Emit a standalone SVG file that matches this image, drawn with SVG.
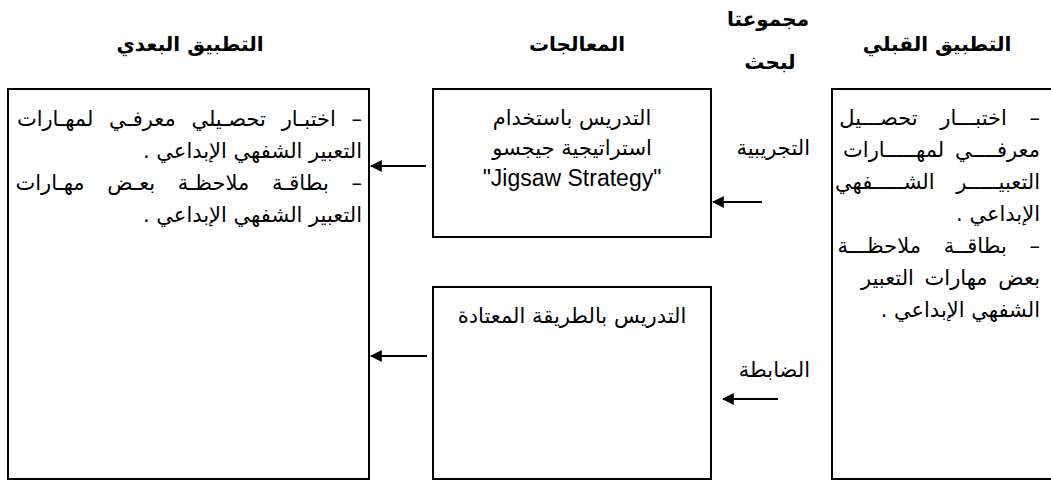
<svg xmlns="http://www.w3.org/2000/svg" width="1051" height="481" viewBox="0 0 1051 481">
<style>
.bg{fill:#fff}
.box{fill:#fff;stroke:#000;stroke-width:2}
.t{font-family:"DejaVu Sans","Liberation Sans",sans-serif;font-size:21px;fill:#000}
.h{font-family:"DejaVu Sans","Liberation Sans",sans-serif;font-size:20px;font-weight:bold;fill:#000}
.lat{font-family:"Liberation Sans",Arial,sans-serif;font-size:23px;fill:#000}
.arr{stroke:#000;stroke-width:2;fill:none;marker-end:url(#ah)}
</style>
<defs>
<marker id="ah" viewBox="0 0 10 10" refX="9" refY="5" markerWidth="6" markerHeight="6" markerUnits="strokeWidth" orient="auto">
<path d="M0,0 L10,5 L0,10 z" fill="#000"/>
</marker>
</defs>
<rect class="bg" x="0" y="0" width="1051" height="481"/>
<g id="headers">
<text class="h" x="190" y="51" text-anchor="middle" direction="rtl">التطبيق البعدي</text>
<text class="h" x="577" y="51" text-anchor="middle" direction="rtl">المعالجات</text>
<text class="h" x="768" y="26" text-anchor="middle" direction="rtl">مجموعتا</text>
<text class="h" x="770" y="69" text-anchor="middle" direction="rtl">لبحث</text>
<text class="h" x="937" y="51" text-anchor="middle" direction="rtl">التطبيق القبلي</text>
</g>
<g id="post-test">
<rect class="box" x="8" y="89" width="361" height="390"/>
<text class="t" x="362" y="126" direction="rtl" text-anchor="start" word-spacing="9">– اختبـار تحصـيلي معرفـي لمهـارات</text>
<text class="t" x="362" y="158" direction="rtl" text-anchor="start">التعبير الشفهي الإبداعي .</text>
<text class="t" x="362" y="190" direction="rtl" text-anchor="start" word-spacing="16">– بطاقـة ملاحظـة بعـض مهـارات</text>
<text class="t" x="362" y="222" direction="rtl" text-anchor="start">التعبير الشفهي الإبداعي  .</text>
</g>
<g id="treatment-jigsaw">
<rect class="box" x="433" y="89" width="278" height="148"/>
<text class="t" x="572" y="125" text-anchor="middle" direction="rtl">التدريس باستخدام</text>
<text class="t" x="572" y="155" text-anchor="middle" direction="rtl">استراتيجية جيجسو</text>
<text class="lat" x="572" y="186" text-anchor="middle">"Jigsaw Strategy"</text>
</g>
<g id="treatment-usual">
<rect class="box" x="433" y="287" width="278" height="192"/>
<text class="t" x="572" y="323" text-anchor="middle" direction="rtl">التدريس بالطريقة المعتادة</text>
</g>
<g id="group-labels">
<text class="t" x="810" y="155" direction="rtl" text-anchor="start">التجريبية</text>
<text class="t" x="810" y="377" direction="rtl" text-anchor="start">الضابطة</text>
</g>
<g id="pre-test">
<rect class="box" x="832" y="89" width="240" height="390"/>
<text class="t" x="1040" y="125" direction="rtl" text-anchor="start" word-spacing="16">– اختبـــار تحصـــيل</text>
<text class="t" x="1040" y="157" direction="rtl" text-anchor="start" word-spacing="4">معرفــــي لمهـــــارات</text>
<text class="t" x="1040" y="189" direction="rtl" text-anchor="start" word-spacing="15">التعبيـــــر الشـــــفهي</text>
<text class="t" x="1040" y="221" direction="rtl" text-anchor="start">الإبداعي .</text>
<text class="t" x="1040" y="253" direction="rtl" text-anchor="start" word-spacing="16">– بطاقــة ملاحظـــة</text>
<text class="t" x="1040" y="285" direction="rtl" text-anchor="start" word-spacing="4">بعض مهارات التعبير</text>
<text class="t" x="1040" y="317" direction="rtl" text-anchor="start">الشفهي الإبداعي  .</text>
</g>
<g id="connectors">
<line class="arr" x1="426" y1="166" x2="371" y2="166"/>
<line class="arr" x1="762" y1="202" x2="713" y2="202"/>
<line class="arr" x1="427" y1="356" x2="371" y2="356"/>
<line class="arr" x1="778" y1="399" x2="723" y2="399"/>
</g>
</svg>
